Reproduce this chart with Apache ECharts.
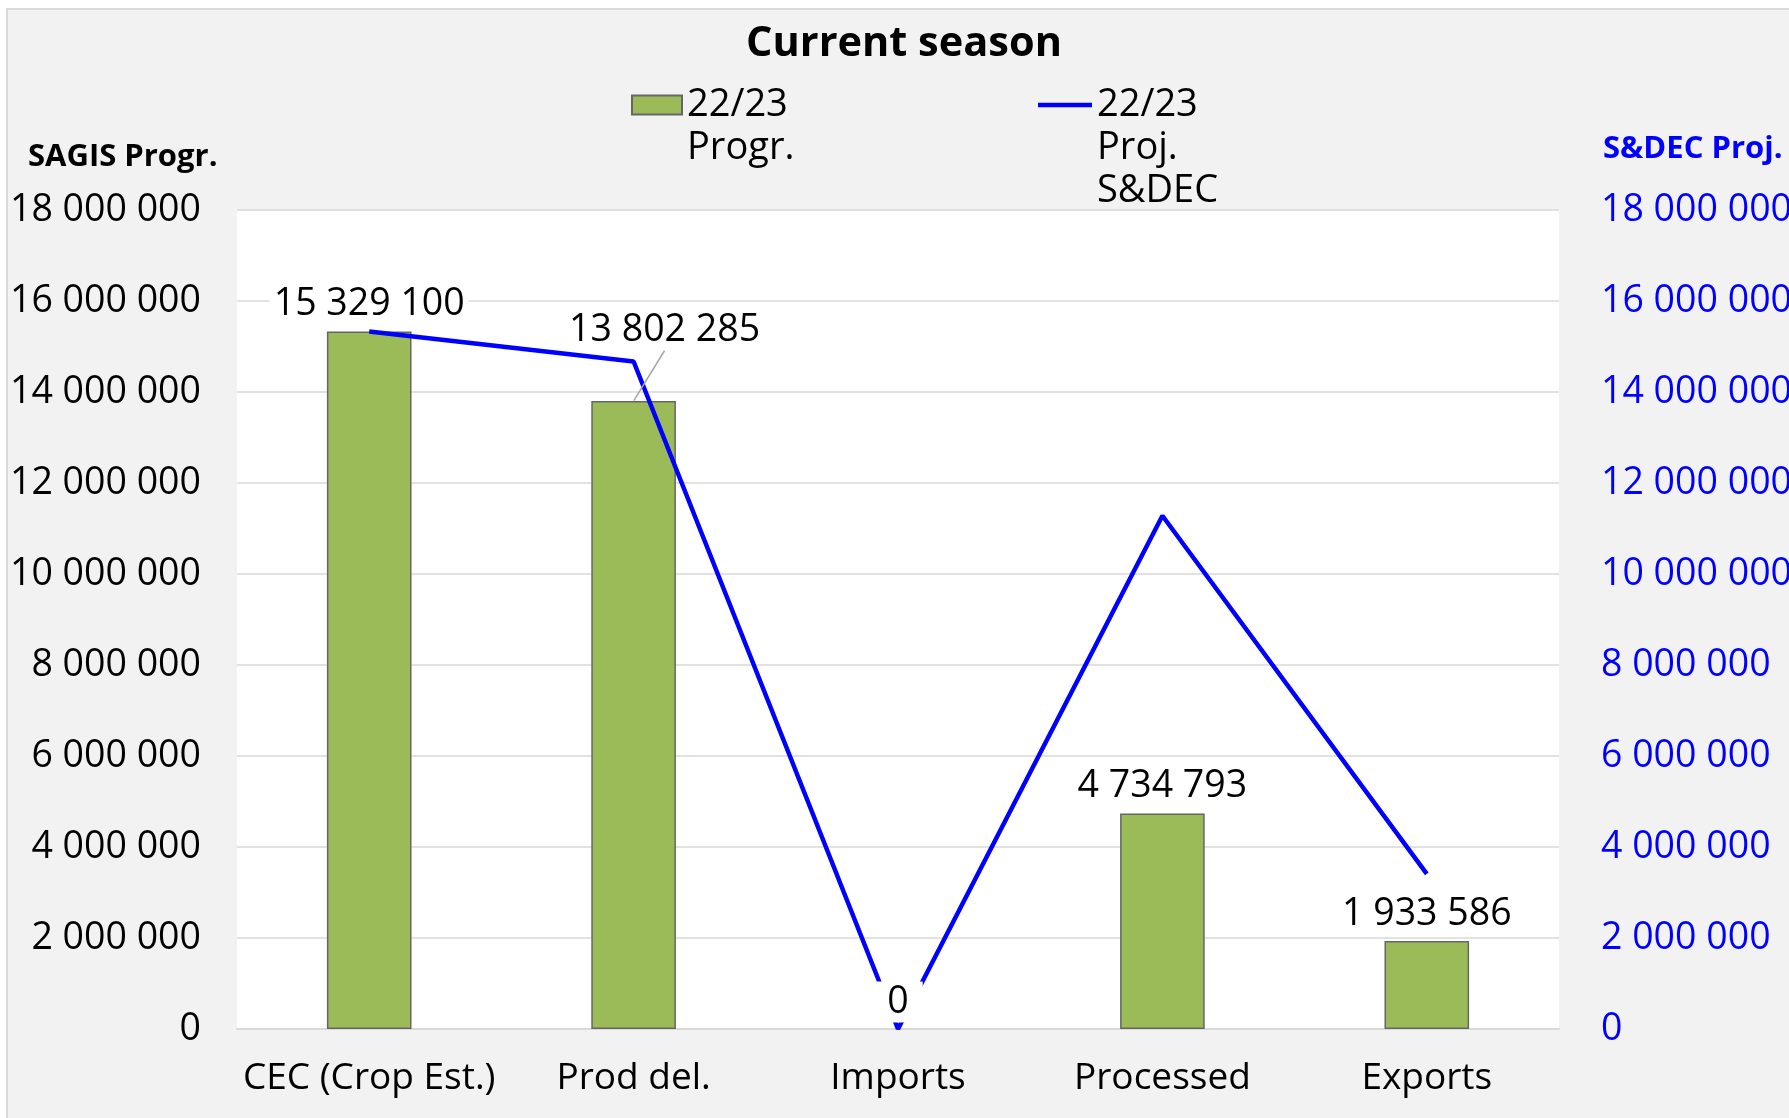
<!DOCTYPE html>
<html>
<head>
<meta charset="utf-8">
<script src="https://cdn.jsdelivr.net/npm/echarts@6/dist/echarts.min.js"></script>
<style>html,body{margin:0;padding:0;background:#fff}#c{width:1789px;height:1118px}</style>
</head>
<body>
<div id="c"></div>
<script>
const categories = ['CEC (Crop Est.)', 'Prod del.', 'Imports', 'Processed', 'Exports'];
const progrValues = [15329100, 13802285, 0, 4734793, 1933586];
const projValues = [15330000, 14670000, 0, 11280000, 3410000];
const axisMin = 0, axisMax = 18000000, axisStep = 2000000;
const titleText = 'Current season';
const leftAxisName = 'SAGIS Progr.';
const rightAxisName = 'S&DEC Proj.';
const barLegend = '22/23 Progr.';
const lineLegend = '22/23 Proj. S&DEC';

const FONT = '"Open Sans", "Liberation Sans", sans-serif';
function fmt(v) { return String(v).replace(/\B(?=(\d{3})+(?!\d))/g, ' '); }

const chart = echarts.init(document.getElementById('c'), null, {renderer: 'canvas'});
chart.setOption({
  backgroundColor: '#ffffff',
  animation: false,
  graphic: [{
    type: 'rect', z: -10, silent: true,
    shape: {x: 7, y: 9, width: 1800, height: 1120},
    style: {fill: '#F2F2F2', stroke: '#D9D9D9', lineWidth: 2}
  }],
  title: [
    {text: titleText, left: 899, top: 13, textAlign: 'center',
     textStyle: {fontFamily: FONT, fontSize: 41.5, fontWeight: 'bold', color: '#000', lineHeight: 52}},
    {text: leftAxisName, left: 23, top: 133,
     textStyle: {fontFamily: FONT, fontSize: 31, fontWeight: 'bold', color: '#000', lineHeight: 38}},
    {text: rightAxisName, left: 1598, top: 125,
     textStyle: {fontFamily: FONT, fontSize: 31, fontWeight: 'bold', color: '#0000FF', lineHeight: 38}}
  ],
  legend: [
    {data: [barLegend], left: 631, top: 105 - 1.5 * 43, padding: 0,
     itemWidth: 50, itemHeight: 19, itemGap: 7, icon: 'rect', selectedMode: false,
     formatter: function () { return '\n22/23\nProgr.'; },
     textStyle: {fontFamily: FONT, fontSize: 38, color: '#000', lineHeight: 43}},
    {data: [lineLegend], left: 1038, top: 105 - 2.5 * 43, padding: 0,
     itemWidth: 54, itemHeight: 4.5, itemGap: 6, icon: 'rect', selectedMode: false,
     formatter: function () { return '\n\n22/23\nProj.\nS&DEC'; },
     textStyle: {fontFamily: FONT, fontSize: 38, color: '#000', lineHeight: 43}}
  ],
  grid: {left: 237, right: 230, top: 210, bottom: 89, show: true, backgroundColor: '#ffffff',
         borderWidth: 0, containLabel: false, outerBoundsMode: 'none'},
  xAxis: {
    type: 'category', data: categories,
    axisLine: {show: true, lineStyle: {color: '#D9D9D9', width: 2}},
    axisTick: {show: false},
    axisLabel: {fontFamily: FONT, fontSize: 37, color: '#000', margin: 27, lineHeight: 44, interval: 0}
  },
  yAxis: [
    {type: 'value', min: axisMin, max: axisMax, interval: axisStep, position: 'left',
     axisLine: {show: false}, axisTick: {show: false},
     splitLine: {show: true, lineStyle: {color: '#D9D9D9', width: 1.5}},
     axisLabel: {fontFamily: FONT, fontSize: 37.5, color: '#000', margin: 36, formatter: fmt, padding: [10, 0, 0, 0]}},
    {type: 'value', min: axisMin, max: axisMax, interval: axisStep, position: 'right',
     axisLine: {show: false}, axisTick: {show: false}, splitLine: {show: false},
     axisLabel: {fontFamily: FONT, fontSize: 37.5, color: '#0000FF', margin: 42, formatter: fmt, padding: [10, 0, 0, 0]}}
  ],
  series: [
    {name: barLegend, type: 'bar', yAxisIndex: 0, barWidth: '32%', z: 2,
     data: progrValues.map(function (v) { return v === 0 ? {value: v, itemStyle: {borderWidth: 0}} : v; }),
     itemStyle: {color: '#9BBB59', borderColor: '#666666', borderWidth: 1.5}},
    {name: lineLegend, type: 'line', yAxisIndex: 1, data: projValues, z: 3,
     symbol: 'none', showSymbol: false, color: '#0000FF',
     lineStyle: {color: '#0000FF', width: 4.5}},
    {name: 'labels', type: 'scatter', yAxisIndex: 0, z: 5, symbolSize: 1,
     itemStyle: {color: 'rgba(0,0,0,0)', opacity: 1},
     data: progrValues.map(function (v, i) {
       const d = {value: v};
       if (i === 1) d.labelLine = {show: true, lineStyle: {color: '#A6A6A6', width: 1.5}};
       if (v === 0) d.label = {padding: [0, 14]};
       return d;
     }),
     label: {show: true, position: 'top', distance: 6, formatter: function (p) { return fmt(p.value); },
             fontFamily: FONT, fontSize: 37.5, color: '#000', lineHeight: 41,
             backgroundColor: '#ffffff', padding: [0, 4]},
     labelLine: {show: false},
     labelLayout: function (p) { return p.dataIndex === 1 ? {dx: 31, dy: -44} : {}; }}
  ]
});
</script>
</body>
</html>
